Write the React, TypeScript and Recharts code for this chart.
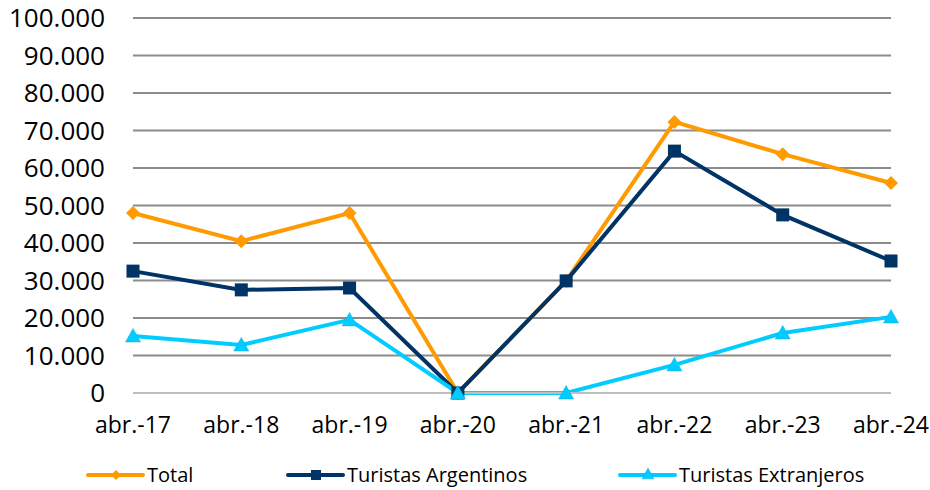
import React from "react";
import { CartesianGrid, Legend, Line, LineChart, XAxis, YAxis } from "recharts";

const categories = ["abr.-17", "abr.-18", "abr.-19", "abr.-20", "abr.-21", "abr.-22", "abr.-23", "abr.-24"];
const total = [48000, 40500, 48000, 0, 29900, 72300, 63700, 56000];
const argentinos = [32500, 27500, 28000, 0, 29900, 64500, 47500, 35200];
const extranjeros = [15200, 12800, 19500, 0, 0, 7500, 16000, 20300];
const yTicks = [0, 10000, 20000, 30000, 40000, 50000, 60000, 70000, 80000, 90000, 100000];

const data = categories.map((month, i) => ({
  month,
  total: total[i],
  argentinos: argentinos[i],
  extranjeros: extranjeros[i]
}));

const ORANGE = "#FF9A00";
const NAVY = "#003366";
const CYAN = "#00CCFF";
const FONT = "'Open Sans', 'Noto Sans', sans-serif";

const fmt = (v: number) => (v === 0 ? "0" : v.toLocaleString("de-DE"));

function Diamond({ cx, cy, color, s = 7 }: any) {
  if (cx == null || cy == null) return null;
  return <path d={`M${cx},${cy - s}L${cx + s},${cy}L${cx},${cy + s}L${cx - s},${cy}Z`} fill={color} />;
}
function Square({ cx, cy, color, s = 6.5 }: any) {
  if (cx == null || cy == null) return null;
  return <rect x={cx - s} y={cy - s} width={2 * s} height={2 * s} fill={color} />;
}
function Triangle({ cx, cy, color, s = 7.5 }: any) {
  if (cx == null || cy == null) return null;
  return (
    <path
      d={`M${cx},${cy - s}L${cx + s},${cy + s * 0.8}L${cx - s},${cy + s * 0.8}Z`}
      fill={color}
      stroke="#1AA8E0"
      strokeWidth={0.5}
    />
  );
}

const legendItems = [
  { label: "Total", color: ORANGE, shape: "d", x: 88 },
  { label: "Turistas Argentinos", color: NAVY, shape: "s", x: 288 },
  { label: "Turistas Extranjeros", color: CYAN, shape: "t", x: 620 }
];

function LegendContent() {
  return (
    <svg width={930} height={30} style={{ display: "block" }}>
      {legendItems.map((it) => {
        const cy = 15;
        const mx = it.x + 28;
        return (
          <g key={it.label}>
            <line x1={it.x} x2={it.x + 55} y1={cy} y2={cy} stroke={it.color} strokeWidth={4} strokeLinecap="round" />
            {it.shape === "d" && <Diamond cx={mx} cy={cy} color={it.color} s={5} />}
            {it.shape === "s" && <Square cx={mx} cy={cy} color={it.color} s={5} />}
            {it.shape === "t" && <Triangle cx={mx} cy={cy - 1} color={it.color} s={6} />}
            <text x={it.x + 59} y={cy + 7} fontSize={20} fontFamily={FONT} fill="#000">
              {it.label}
            </text>
          </g>
        );
      })}
    </svg>
  );
}

export default function App() {
  return (
    <div style={{ position: "absolute", left: 0, top: 0, width: 930, height: 490, background: "#fff" }}>
      <LineChart width={930} height={490} data={data} margin={{ top: 18, right: 39, bottom: 0, left: 0 }}>
        <CartesianGrid horizontal vertical={false} stroke="#8C8C8C" strokeWidth={2} />
        <XAxis
          dataKey="month"
          axisLine={{ stroke: "#BFBFBF", strokeWidth: 2 }}
          tickLine={false}
          tick={{ fill: "#000", fontSize: 23, fontFamily: FONT }}
          tickMargin={18}
          height={67}
          interval={0}
        />
        <YAxis
          domain={[0, 100000]}
          ticks={yTicks}
          axisLine={false}
          tickLine={false}
          width={133}
          tickMargin={22}
          tickFormatter={fmt}
          tick={{ fill: "#000", fontSize: 26, fontFamily: FONT }}
        />
        <Legend verticalAlign="bottom" height={30} content={<LegendContent />} />
        <Line
          dataKey="total"
          stroke={ORANGE}
          strokeWidth={4}
          isAnimationActive={false}
          dot={(p: any) => <Diamond key={`d${p.index}`} cx={p.cx} cy={p.cy} color={ORANGE} />}
          activeDot={false}
        />
        <Line
          dataKey="argentinos"
          stroke={NAVY}
          strokeWidth={4}
          isAnimationActive={false}
          dot={(p: any) => <Square key={`s${p.index}`} cx={p.cx} cy={p.cy} color={NAVY} />}
          activeDot={false}
        />
        <Line
          dataKey="extranjeros"
          stroke={CYAN}
          strokeWidth={4}
          isAnimationActive={false}
          dot={(p: any) => <Triangle key={`t${p.index}`} cx={p.cx} cy={p.cy} color={CYAN} />}
          activeDot={false}
        />
      </LineChart>
    </div>
  );
}
